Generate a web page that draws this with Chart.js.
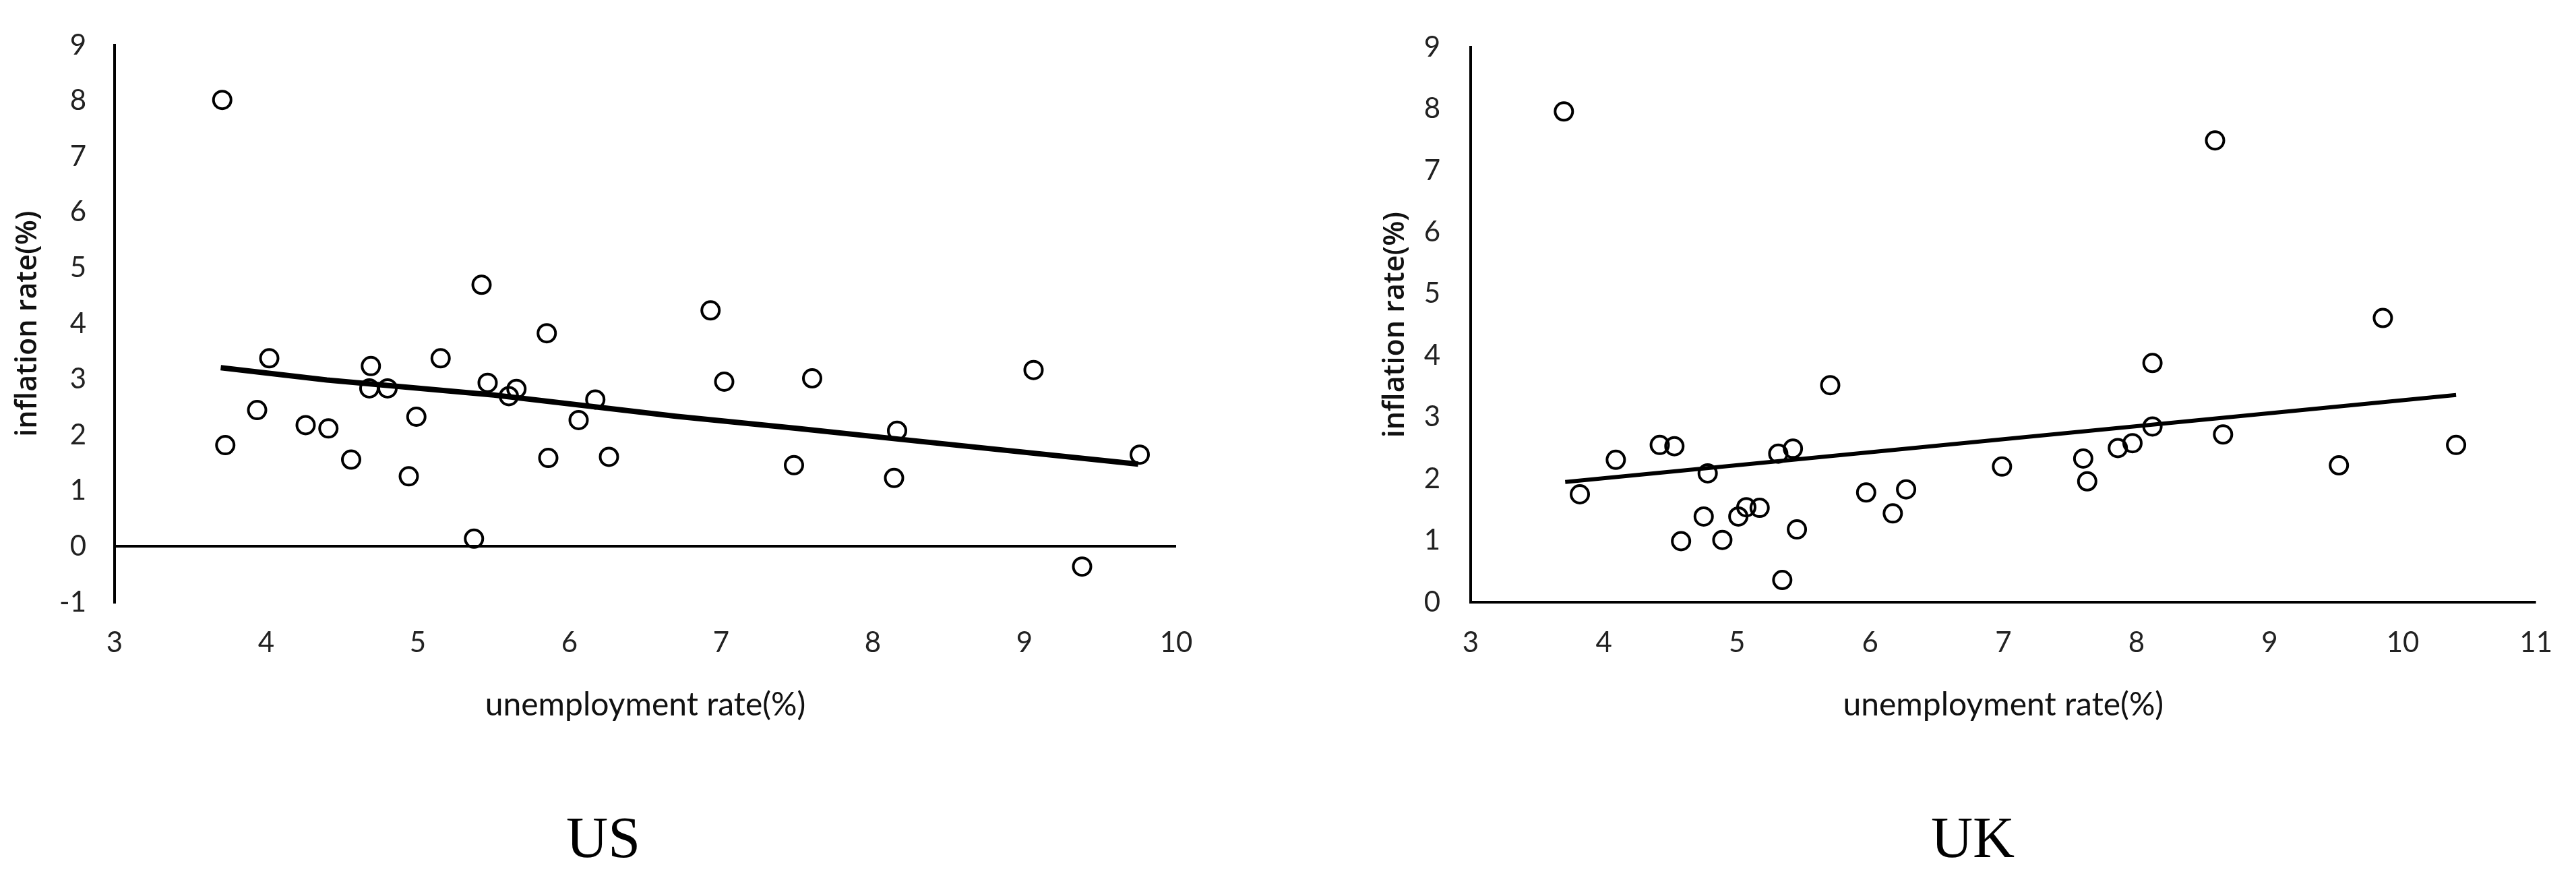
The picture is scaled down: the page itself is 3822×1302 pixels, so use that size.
<!DOCTYPE html>
<html>
<head>
<meta charset="utf-8">
<script src="https://cdn.jsdelivr.net/npm/chart.js@4.4.1/dist/chart.umd.min.js"></script>
<style>
    body { margin: 0; background: #ffffff; overflow: hidden; }
    .panel { position: absolute; top: 0; width: 1911px; height: 1302px; }
    .country {
        position: absolute;
        top: 1242px;
        font-family: 'Liberation Serif', serif;
        font-size: 86px;
        line-height: 1;
        color: #000000;
        transform: translate(-50%, -50%);
        white-space: nowrap;
    }
</style>
</head>
<body>
<div class="panel" style="left: 0;"><canvas id="usChart" width="1911" height="1302"></canvas></div>
<div class="panel" style="left: 1911px;"><canvas id="ukChart" width="1911" height="1302"></canvas></div>
<div class="country" style="left: 895px;">US</div>
<div class="country" style="left: 2927px;">UK</div>
<script>
// US: unemployment rate (%) vs inflation rate (%)
const usUnemployment = [3.71, 3.73, 3.94, 4.02, 4.26, 4.41, 4.56, 4.69, 4.68, 4.80, 4.94, 4.99, 5.15, 5.37, 5.42, 5.46,
    5.60, 5.65, 5.85, 5.86, 6.06, 6.17, 6.26, 6.93, 7.02, 7.48, 7.60, 8.14, 8.16, 9.06, 9.38, 9.76];
const usInflation = [8.02, 1.82, 2.45, 3.38, 2.18, 2.12, 1.56, 3.24, 2.84, 2.84, 1.26, 2.33, 3.38, 0.14, 4.70, 2.94,
    2.70, 2.83, 3.83, 1.59, 2.27, 2.64, 1.61, 4.24, 2.96, 1.46, 3.02, 1.23, 2.08, 3.17, -0.36, 1.65];
const usTrendX = [3.70, 4.40, 5.50, 6.70, 7.50, 8.20, 9.75];
const usTrendY = [3.21, 2.99, 2.72, 2.34, 2.12, 1.92, 1.48];

// UK
const ukUnemployment = [3.70, 3.82, 4.09, 4.42, 4.53, 4.58, 4.75, 4.78, 4.89, 5.01, 5.07, 5.17, 5.31, 5.34, 5.42, 5.45,
    5.70, 5.97, 6.17, 6.27, 6.99, 7.60, 7.63, 7.86, 7.97, 8.12, 8.12, 8.59, 8.65, 9.52, 9.85, 10.40];
const ukInflation = [7.96, 1.75, 2.31, 2.55, 2.53, 0.99, 1.39, 2.09, 1.01, 1.39, 1.54, 1.53, 2.41, 0.36, 2.49, 1.18,
    3.52, 1.78, 1.44, 1.83, 2.20, 2.33, 1.96, 2.50, 2.58, 3.88, 2.85, 7.49, 2.72, 2.22, 4.61, 2.55];
const ukTrendX = [3.71, 10.40];
const ukTrendY = [1.95, 3.36];

const xAxisTitle = 'unemployment rate(%)';
const yAxisTitle = 'inflation rate(%)';

function toPoints(xs, ys) {
    return xs.map((x, i) => ({x: x, y: ys[i]}));
}

function renderScatter(canvasId, cfg) {
    const graph = document.getElementById(canvasId).getContext('2d');
    return new Chart(graph, {
        type: 'scatter',
        data: {
            datasets: [
                {
                    label: 'trend',
                    data: toPoints(cfg.trendX, cfg.trendY),
                    showLine: true,
                    borderColor: '#000000',
                    borderWidth: cfg.trendWidth,
                    pointRadius: 0,
                    tension: 0,
                    order: 0,
                    clip: false
                },
                {
                    label: 'data',
                    data: toPoints(cfg.xs, cfg.ys),
                    pointStyle: 'circle',
                    pointRadius: 13,
                    pointBorderWidth: 4,
                    pointBorderColor: '#000000',
                    pointBackgroundColor: 'rgba(255,255,255,0)',
                    order: 1,
                    clip: false
                }
            ]
        },
        options: {
            responsive: false,
            animation: false,
            devicePixelRatio: 1,
            layout: {padding: {left: 0, right: cfg.padRight, top: cfg.padTop, bottom: 0}},
            plugins: {
                legend: {display: false},
                tooltip: {enabled: false}
            },
            scales: {
                x: {
                    type: 'linear',
                    min: cfg.xMin,
                    max: cfg.xMax,
                    afterFit: function (scale) { scale.height = 409; },
                    grid: {display: false, drawTicks: false},
                    border: {display: false},
                    ticks: {
                        stepSize: 1,
                        padding: 35,
                        color: '#222222',
                        font: {family: 'Lato', size: 42}
                    },
                    title: {
                        display: true,
                        text: xAxisTitle,
                        color: '#111111',
                        font: {family: 'Lato', size: 48},
                        padding: {top: 0, bottom: 228}
                    }
                },
                y: {
                    type: 'linear',
                    min: cfg.yMin,
                    max: cfg.yMax,
                    afterFit: function (scale) { scale.width = cfg.yWidth; },
                    grid: {
                        drawTicks: false,
                        lineWidth: 4,
                        color: ctx => (ctx.tick && ctx.tick.value === 0) ? '#000000' : 'rgba(0,0,0,0)'
                    },
                    border: {display: true, color: '#000000', width: 4},
                    ticks: {
                        stepSize: 1,
                        padding: cfg.yTickPad,
                        color: '#222222',
                        font: {family: 'Lato', size: 42}
                    },
                    title: {
                        display: true,
                        text: yAxisTitle,
                        color: '#111111',
                        font: {family: 'Open Sans', size: 43, weight: '600'},
                        padding: {top: cfg.yTitlePad, bottom: 0}
                    }
                }
            }
        }
    });
}

renderScatter('usChart', {
    xs: usUnemployment, ys: usInflation, trendX: usTrendX, trendY: usTrendY, trendWidth: 8,
    xMin: 3, xMax: 10, yMin: -1, yMax: 9,
    padRight: 166, padTop: 51, yWidth: 170, yTickPad: 42, yTitlePad: 16
});

renderScatter('ukChart', {
    xs: ukUnemployment, ys: ukInflation, trendX: ukTrendX, trendY: ukTrendY, trendWidth: 6,
    xMin: 3, xMax: 11, yMin: 0, yMax: 9,
    padRight: 48, padTop: 54, yWidth: 271, yTickPad: 45, yTitlePad: 134
});
</script>
</body>
</html>
